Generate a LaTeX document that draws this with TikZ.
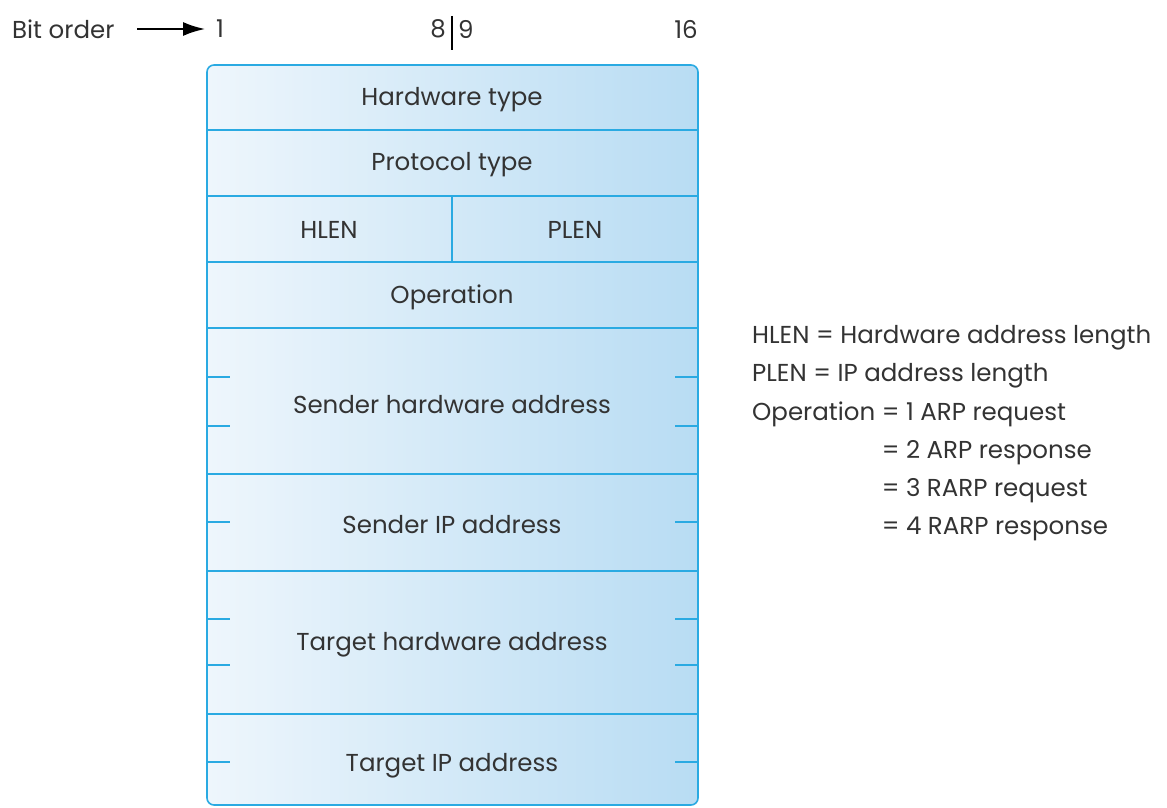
\documentclass[tikz,border=0pt]{standalone}
\usepackage{fontspec}
\setmainfont{Poppins}
\usetikzlibrary{arrows.meta}
\definecolor{linec}{HTML}{2AAAE2}
\definecolor{fillL}{HTML}{EEF6FC}
\definecolor{fillR}{HTML}{B8DCF3}
\definecolor{txt}{HTML}{333333}
\tikzset{
  sep/.style={draw=linec, line width=1.6pt},
  tick/.style={draw=linec, line width=1.6pt},
  field/.style={text=txt, font=\fontsize{24.5}{29}\selectfont, inner sep=0pt},
  legend/.style={text=txt, font=\fontsize{24.5}{29}\selectfont, inner sep=0pt, anchor=west},
  bits/.style={text=txt, font=\fontsize{24.5}{29}\selectfont, inner sep=0pt},
}
\begin{document}
\begin{tikzpicture}[x=1pt,y=-1pt]
\useasboundingbox (0,0) rectangle (1167,808);
% outer frame
\node[draw=linec, line width=1.6pt, rounded corners=7pt, left color=fillL, right color=fillR,
      minimum width=491pt, minimum height=740pt, inner sep=0pt] (frame) at (452.5,435) {};
% separators
\foreach \yy in {130,196,262,328,474,571,714}
  \draw[sep] (207,\yy) -- (698,\yy);
\draw[sep] (452,196) -- (452,262);
% ticks
\foreach \yy in {377,426,522,619,665,762} {
  \draw[tick] (207,\yy) -- (230,\yy);
  \draw[tick] (675,\yy) -- (698,\yy);
}
% field labels
\node[field] (hw) at (452,100) {Hardware type};
\node[field] (pt) at (452,165) {Protocol type};
\node[field] (hlen) at (329,230) {HLEN};
\node[field] (plen) at (575,230) {PLEN};
\node[field] (op) at (452,297) {Operation};
\node[field] (sha) at (452,405) {Sender hardware address};
\node[field] (sip) at (452,525) {Sender IP address};
\node[field] (tha) at (452,645) {Target hardware address};
\node[field] (tip) at (452,766) {Target IP address};
% bit order
\node[bits, anchor=west] (bo) at (12,29) {Bit order};
\node[bits] (b1) at (220,29) {1};
\node[bits, anchor=east] (b8) at (446,29) {8};
\node[bits, anchor=west] (b9) at (458,29) {9};
\node[bits] (b16) at (686,29) {16};
\coordinate (ast) at (137,29);
\draw[line width=2pt, -{Latex[length=22pt,width=14pt]}] (ast) -- (b1.west -| 205,0);
\draw[line width=1.3pt] (452,16) -- (452,50);
% legend
\node[legend] (l1) at (752,338) {HLEN = Hardware address length};
\node[legend] (l2) at (752,376) {PLEN = IP address length};
\node[legend] (l3) at (752,414) {Operation = 1 ARP request};
\node[legend] (l4) at (752,452) {\phantom{Operation }= 2 ARP response};
\node[legend] (l5) at (752,490) {\phantom{Operation }= 3 RARP request};
\node[legend] (l6) at (752,528) {\phantom{Operation }= 4 RARP response};
\end{tikzpicture}
\end{document}
